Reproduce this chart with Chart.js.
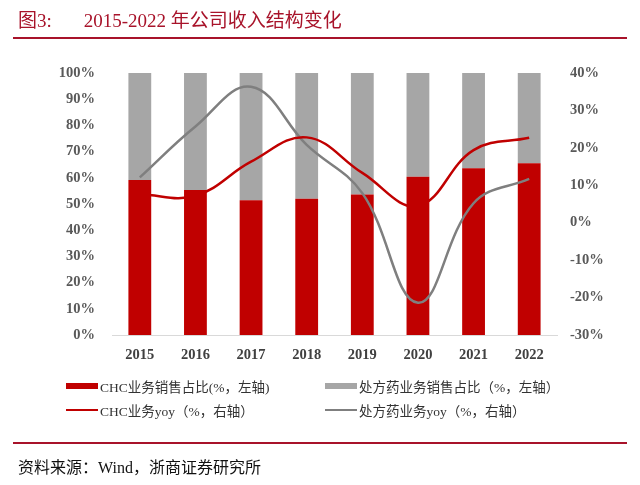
<!DOCTYPE html>
<html><head><meta charset="utf-8">
<script src="https://cdn.jsdelivr.net/npm/chart.js@4/dist/chart.umd.min.js"></script>
<style>
html,body{margin:0;padding:0;background:#fff;}
#wrap{position:relative;width:640px;height:485px;overflow:hidden;font-family:"Liberation Serif","Noto Sans CJK SC",serif;}
#title{position:absolute;left:18px;top:5px;font-size:19px;color:#A8132A;white-space:nowrap;}
#title .n{margin-right:32px;}
.rule{position:absolute;left:13px;width:614px;height:2px;background:#A8132A;}
#foot{position:absolute;left:18px;top:454px;font-size:16px;color:#111;white-space:nowrap;}
#cv{position:absolute;left:0;top:0;}
.lg{position:absolute;font-size:13.5px;color:#333;white-space:nowrap;display:flex;align-items:center;}
.lg i{display:inline-block;width:32px;margin-right:2px;}
</style></head>
<body><div id="wrap">
<canvas id="cv" width="640" height="485"></canvas>
<div id="title"><span class="n">图3:</span>2015-2022 年公司收入结构变化</div>
<div class="rule" style="top:37px"></div>
<div class="rule" style="top:442px"></div>
<div id="foot">资料来源：Wind，浙商证券研究所</div>
<div class="lg" style="left:66px;top:376px"><i style="height:6px;background:#C00000"></i>CHC业务销售占比(%，左轴)</div>
<div class="lg" style="left:325px;top:376px"><i style="height:6px;background:#A6A6A6"></i>处方药业务销售占比（%，左轴）</div>
<div class="lg" style="left:66px;top:400px"><i style="height:2px;background:#C00000"></i>CHC业务yoy（%，右轴）</div>
<div class="lg" style="left:325px;top:400px"><i style="height:2px;background:#7F7F7F"></i>处方药业务yoy（%，右轴）</div>
</div>
<script>
const categories = ["2015","2016","2017","2018","2019","2020","2021","2022"];
const chcShare = [59.2, 55.3, 51.4, 52.0, 53.6, 60.4, 63.6, 65.6];
const rxShare = [40.8, 44.7, 48.6, 48.0, 46.4, 39.6, 36.4, 34.4];
const chcYoy = [7.6, 7.2, 16.3, 22.8, 13.3, 4.5, 19.4, 22.7];
const rxYoy = [12.1, 25.7, 36.3, 20.8, 7.9, -21.4, 5.2, 11.7];

const tickFont = {family:"Liberation Serif", size:14.5, weight:"bold"};
new Chart(document.getElementById('cv'), {
  data: {
    labels: categories,
    datasets: [
      {type:'bar', label:'CHC业务销售占比', data: chcShare, backgroundColor:'#C00000', yAxisID:'y', order:2, barPercentage:0.41, categoryPercentage:1},
      {type:'bar', label:'处方药业务销售占比', data: rxShare, backgroundColor:'#A6A6A6', yAxisID:'y', order:2, barPercentage:0.41, categoryPercentage:1},
      {type:'line', label:'CHC业务yoy', data: chcYoy, borderColor:'#C00000', borderWidth:2.5, pointRadius:0, tension:0.4, yAxisID:'y1', order:0},
      {type:'line', label:'处方药业务yoy', data: rxYoy, borderColor:'#7F7F7F', borderWidth:2.5, pointRadius:0, tension:0.4, yAxisID:'y1', order:1}
    ]
  },
  options: {
    responsive:false, animation:false, devicePixelRatio:1,
    layout:{padding:{top:73, bottom:120, left:0, right:0}},
    plugins:{legend:{display:false}, tooltip:{enabled:false}},
    scales:{
      x:{stacked:true, grid:{display:false}, border:{display:true, color:'#D9D9D9', width:1},
         ticks:{font:tickFont, color:'#404040', padding:4},
         afterFit(s){s.height=30;}},
      y:{stacked:true, position:'left', min:0, max:100, grid:{display:false}, border:{display:false},
         ticks:{stepSize:10, font:tickFont, color:'#595959', padding:9, callback:v=>v+'%'},
         afterFit(s){s.width=112;}},
      y1:{position:'right', min:-30, max:40, grid:{display:false}, border:{display:false},
         ticks:{stepSize:10, font:tickFont, color:'#595959', padding:5, callback:v=>v+'%'},
         afterFit(s){s.width=83;}}
    }
  }
});
</script>
</body></html>
